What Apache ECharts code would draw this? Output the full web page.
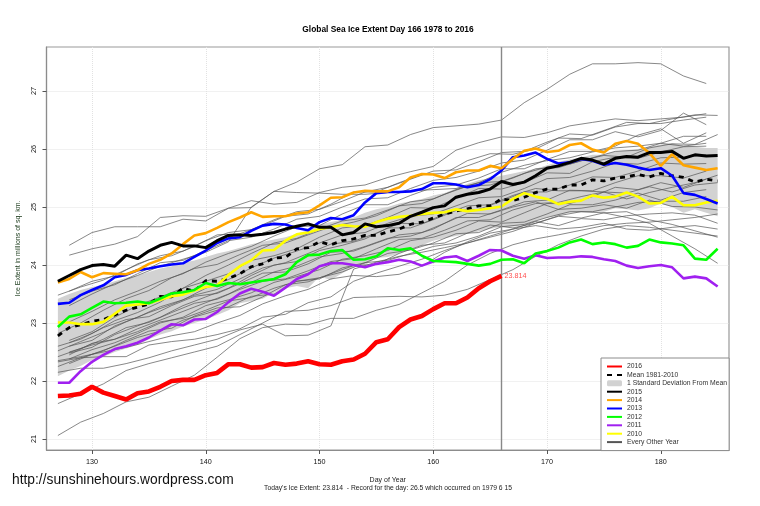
<!DOCTYPE html>
<html lang="en">
<head>
  <meta charset="UTF-8">
  <title>Global Sea Ice Extent</title>
  <script src="https://cdn.jsdelivr.net/npm/echarts@6/dist/echarts.min.js"></script>
  <style>
    html, body { margin: 0; padding: 0; background: #fff; }
  </style>
</head>
<body>
  <div id="main" style="width:760px; height:506px;"></div>
  <script>
    // day ticks and value ticks
    var dayTicks = [130, 140, 150, 160, 170, 180];
    var iceTicks = [21, 22, 23, 24, 25, 26, 27];
    var todayDay = 166;

    // highlighted years, one value per day, starting at day 127
    var y2016 = [21.74,21.75,21.78,21.90,21.80,21.74,21.68,21.79,21.82,21.90,22.00,22.02,22.02,22.10,22.14,22.29,22.29,22.23,22.24,22.31,22.28,22.30,22.34,22.29,22.28,22.34,22.37,22.47,22.67,22.72,22.93,23.06,23.12,23.24,23.34,23.34,23.44,23.60,23.72,23.814];
    var y2015 = [23.72,23.82,23.92,23.99,24.01,23.98,24.17,24.11,24.24,24.34,24.39,24.33,24.33,24.30,24.42,24.51,24.52,24.51,24.53,24.56,24.62,24.67,24.71,24.65,24.65,24.52,24.56,24.71,24.66,24.68,24.72,24.84,24.91,24.99,25.02,25.17,25.22,25.25,25.31,25.44,25.39,25.43,25.54,25.67,25.71,25.77,25.84,25.81,25.74,25.84,25.87,25.86,25.94,25.94,25.96,25.84,25.90,25.88,25.89];
    var y2014 = [23.70,23.76,23.88,23.79,23.86,23.85,23.84,23.91,24.02,24.09,24.20,24.36,24.51,24.55,24.64,24.74,24.82,24.91,24.83,24.84,24.84,24.89,24.91,25.03,25.16,25.17,25.25,25.28,25.27,25.27,25.34,25.51,25.57,25.56,25.50,25.60,25.63,25.63,25.71,25.67,25.83,25.97,26.01,25.95,25.97,26.07,26.10,25.99,25.94,26.09,26.14,26.09,25.93,25.71,25.91,25.72,25.68,25.64,25.67];
    var y2013 = [23.33,23.35,23.48,23.57,23.65,23.79,23.83,23.91,23.94,23.98,24.01,24.03,24.14,24.25,24.38,24.46,24.48,24.59,24.68,24.71,24.70,24.64,24.60,24.74,24.81,24.79,24.86,25.08,25.24,25.26,25.26,25.27,25.31,25.41,25.41,25.39,25.34,25.38,25.48,25.63,25.86,25.89,25.94,25.83,25.75,25.77,25.83,25.80,25.73,25.76,25.73,25.68,25.64,25.67,25.54,25.24,25.21,25.14,25.06];
    var y2012 = [22.93,23.11,23.15,23.26,23.37,23.34,23.35,23.37,23.34,23.42,23.51,23.53,23.57,23.69,23.64,23.69,23.67,23.70,23.73,23.76,23.84,24.05,24.17,24.18,24.24,24.26,24.09,24.10,24.15,24.29,24.26,24.29,24.16,24.07,24.06,24.05,24.02,23.99,24.02,24.09,24.10,24.03,24.20,24.24,24.30,24.39,24.44,24.36,24.39,24.36,24.30,24.33,24.44,24.39,24.37,24.34,24.11,24.09,24.28];
    var y2011 = [21.97,21.97,22.17,22.33,22.45,22.55,22.60,22.66,22.75,22.87,22.98,22.96,23.06,23.07,23.19,23.36,23.51,23.59,23.54,23.47,23.61,23.76,23.84,23.98,24.03,24.03,24.00,23.96,24.02,24.05,24.09,24.06,23.99,24.06,24.13,24.15,24.07,24.16,24.26,24.25,24.16,24.11,24.17,24.12,24.13,24.13,24.15,24.14,24.10,24.07,23.99,23.95,23.98,24.00,23.96,23.77,23.80,23.77,23.63];
    var y2010 = [23.01,23.01,22.98,22.98,23.02,23.16,23.30,23.32,23.34,23.40,23.46,23.49,23.56,23.62,23.65,23.83,23.98,24.08,24.25,24.26,24.42,24.53,24.56,24.62,24.65,24.69,24.67,24.66,24.74,24.80,24.83,24.85,24.88,24.90,24.91,24.96,24.93,24.95,24.98,25.01,25.14,25.24,25.18,25.14,25.05,25.09,25.11,25.20,25.16,25.18,25.25,25.18,25.06,25.07,25.18,25.03,25.03,25.08,25.11];
    var meanIce = [22.78,22.92,22.97,23.03,23.06,23.14,23.22,23.27,23.33,23.46,23.45,23.60,23.55,23.73,23.72,23.77,23.85,23.97,24.02,24.12,24.13,24.28,24.30,24.40,24.35,24.42,24.45,24.51,24.51,24.57,24.62,24.70,24.74,24.81,24.88,24.93,24.97,25.02,25.02,25.14,25.11,25.17,25.25,25.31,25.31,25.38,25.38,25.47,25.45,25.50,25.52,25.56,25.52,25.58,25.54,25.51,25.43,25.48,25.45];
    var sdUpper = [23.42,23.50,23.57,23.62,23.66,23.72,23.78,23.82,23.88,23.94,23.98,24.04,24.08,24.14,24.20,24.24,24.30,24.36,24.40,24.44,24.48,24.54,24.60,24.70,24.74,24.78,24.82,24.90,24.96,25.00,25.06,25.10,25.14,25.20,25.24,25.32,25.40,25.46,25.50,25.54,25.58,25.62,25.66,25.72,25.78,25.82,25.86,25.90,25.90,25.96,25.98,26.00,26.04,26.08,26.10,26.06,26.04,26.02,26.02];
    var sdLower = [22.08,22.18,22.26,22.36,22.42,22.50,22.56,22.62,22.72,22.80,22.86,22.94,23.00,23.06,23.14,23.22,23.34,23.38,23.42,23.52,23.60,23.64,23.60,23.80,23.74,23.86,23.96,24.00,24.12,24.14,24.20,24.28,24.34,24.42,24.46,24.50,24.54,24.58,24.62,24.66,24.66,24.70,24.76,24.82,24.86,24.90,24.92,24.92,24.92,24.98,24.96,24.94,24.98,25.06,25.00,24.90,24.96,24.90,24.84];

    // thin years, one value every second day, starting at day 128
    var evenYears = [
      [24.34,24.56,24.66,24.66,24.66,24.79,24.76,24.98,24.99,25.27,25.43,25.66,25.73,26.04,26.07,26.25,26.37,26.40,26.43,26.50,26.80,27.03,27.29,27.47,27.47,27.49,27.47,27.26,27.13],
      [24.17,24.28,24.36,24.49,24.82,24.85,24.84,24.98,25.11,25.05,25.08,25.25,25.34,25.38,25.51,25.61,25.70,25.98,26.11,26.21,26.20,26.28,26.40,26.46,26.52,26.49,26.52,26.55,26.61],
      [22.45,22.65,22.72,22.85,23.02,23.08,23.22,23.38,23.44,23.60,23.72,23.78,23.88,24.04,24.08,24.20,24.32,24.38,24.50,24.66,24.70,24.82,24.92,24.92,25.00,25.08,25.10,25.10,25.18],
      [22.30,22.46,22.60,22.75,22.86,23.05,23.16,23.28,23.46,23.50,23.72,23.76,23.95,24.04,24.20,24.26,24.38,24.54,24.56,24.72,24.74,24.88,25.04,25.04,25.12,25.24,25.12,25.25,25.30],
      [22.38,22.54,22.66,22.82,23.00,23.10,23.30,23.40,23.52,23.70,23.80,23.92,24.10,24.16,24.25,24.42,24.48,24.60,24.76,24.74,24.90,25.06,25.06,25.18,25.34,25.30,25.42,25.34,25.48],
      [22.50,22.62,22.72,22.90,23.05,23.20,23.35,23.50,23.70,23.88,23.98,24.14,24.20,24.32,24.46,24.50,24.62,24.82,24.82,24.95,25.09,25.12,25.29,25.28,25.42,25.54,25.54,25.50,25.62],
      [22.48,22.58,22.80,22.95,23.10,23.30,23.45,23.60,23.82,24.00,24.06,24.25,24.34,24.45,24.64,24.64,24.78,24.94,24.96,25.10,25.26,25.26,25.38,25.52,25.51,25.62,25.76,25.74,25.75],
      [22.60,22.70,22.95,23.10,23.28,23.40,23.60,23.75,23.95,24.12,24.24,24.38,24.52,24.56,24.72,24.84,24.88,25.02,25.16,25.18,25.32,25.49,25.51,25.62,25.76,25.74,25.85,25.86,25.90],
      [22.66,22.82,23.04,23.18,23.36,23.60,23.72,23.85,24.08,24.16,24.28,24.48,24.64,24.68,24.82,24.99,24.98,25.15,25.32,25.31,25.42,25.59,25.58,25.78,25.86,25.84,25.95,26.04,26.05],
      [22.70,22.85,23.10,23.30,23.45,23.60,23.82,24.00,24.20,24.38,24.46,24.62,24.76,24.81,24.95,25.09,25.14,25.30,25.42,25.44,25.58,25.69,25.74,25.85,25.96,25.98,26.10,26.22,26.22],
      [23.02,23.20,23.40,23.55,23.72,23.85,24.05,24.20,24.32,24.50,24.66,24.68,24.88,25.04,25.04,25.20,25.34,25.38,25.50,25.66,25.66,25.82,25.96,25.96,26.05,26.24,26.35,26.10,26.28],
      [23.40,23.55,23.66,23.85,24.04,24.08,24.25,24.42,24.48,24.62,24.79,24.84,25.00,25.14,25.16,25.32,25.46,25.51,25.62,25.76,25.81,25.98,26.16,26.16,26.30,26.21,26.32,26.62,26.42],
      [23.55,23.72,23.81,24.02,24.16,24.24,24.42,24.56,24.61,24.78,24.92,24.96,25.10,25.26,25.34,25.48,25.62,25.64,25.78,25.94,25.96,26.12,26.26,26.24,26.38,26.44,26.44,26.50,26.55],
      [23.30,23.50,23.68,23.82,23.98,24.10,24.22,24.40,25.00,25.27,25.25,25.24,25.22,25.22,25.25,25.28,25.30,25.32,25.42,25.60,25.72,25.80,25.85,25.95,26.02,26.05,26.10,26.05,26.10]
    ];

    // thin years, one value every second day, starting at day 127
    var oddYears = [
      [21.06,21.29,21.44,21.64,21.72,21.91,22.10,22.41,22.73,22.92,22.98,22.97,23.08,23.08,23.22,23.32,23.52,23.72,24.00,24.20,24.35,24.45,24.52,24.60,24.68,24.72,24.74,24.78,24.82,24.88],
      [21.61,21.78,21.95,22.18,22.30,22.40,22.50,22.60,22.80,23.00,23.20,23.22,23.30,23.44,23.45,23.46,23.45,23.48,23.58,23.75,23.92,24.15,24.35,24.50,24.62,24.68,24.65,24.60,24.55,24.50],
      [22.15,22.22,22.22,22.30,22.40,22.52,22.62,22.72,22.88,22.98,22.78,22.79,22.95,23.93,24.05,24.15,24.22,24.30,24.38,24.48,24.58,24.72,24.85,24.92,24.90,24.82,24.72,24.50,24.28,24.03],
      [22.35,22.42,22.50,22.58,22.68,22.78,22.85,23.00,23.13,23.33,23.47,23.58,23.76,23.82,23.80,23.84,23.98,24.22,24.40,24.55,24.62,24.68,24.62,24.65,24.72,24.62,24.60,24.65,24.68,24.62],
      [22.33,22.40,22.42,22.42,22.62,22.68,22.72,22.80,22.90,23.10,23.15,23.35,23.45,23.72,23.86,23.98,24.10,24.25,24.38,24.50,24.62,24.75,24.68,24.80,24.78,24.85,24.88,24.90,24.86,24.72],
      [22.25,22.40,22.52,22.70,22.86,22.91,23.12,23.26,23.28,23.45,23.66,23.71,23.85,23.99,24.01,24.20,24.34,24.38,24.55,24.69,24.64,24.72,24.84,24.81,24.90,24.92,24.78,24.70,24.59,24.48],
      [22.42,22.56,22.72,22.92,23.01,23.18,23.34,23.41,23.58,23.72,23.76,23.90,24.06,24.11,24.28,24.44,24.46,24.60,24.76,24.78,24.95,25.06,25.08,25.18,25.26,25.24,25.35,25.26,25.38,25.42],
      [22.52,22.68,22.84,23.02,23.18,23.32,23.48,23.58,23.76,23.95,24.04,24.20,24.36,24.41,24.55,24.72,24.71,24.88,25.02,25.04,25.20,25.32,25.28,25.28,25.26,25.14,25.25,25.34,25.42,25.55],
      [22.82,23.00,23.22,23.42,23.56,23.78,23.94,24.01,24.18,24.34,24.38,24.52,24.66,24.74,24.85,25.02,25.06,25.22,25.36,25.38,25.50,25.66,25.68,25.80,25.89,25.86,26.02,26.09,26.08,26.25],
      [23.48,23.62,23.74,23.92,24.09,24.16,24.32,24.52,24.54,24.68,24.84,24.88,25.05,25.26,25.26,25.42,25.56,25.58,25.80,25.92,25.91,26.00,26.19,26.18,26.32,26.46,26.44,26.52,26.59,26.58],
      [22.60,22.72,22.92,23.06,23.11,23.30,23.46,23.51,23.68,23.86,23.88,24.02,24.22,24.24,24.38,24.52,24.56,24.72,24.89,24.88,25.00,25.09,24.96,24.98,25.04,24.98,25.12,25.01,25.00,24.95]
    ];

    // turn a value list into [day, value] pairs
    function toPoints(values, startDay, step) {
      return values.map(function (v, i) { return [startDay + i * step, v]; });
    }

    var main = document.getElementById("main");
    var mychart = echarts.init(main);

    var series = [];

    // grey band, one polygon through the axis scales
    var bandRows = sdUpper.map(function (v, i) { return [127 + i, sdLower[i], v]; });
    series.push({
      name: "1 Standard Deviation From Mean",
      type: "custom",
      z: 1,
      silent: true,
      data: bandRows,
      itemStyle: { color: "#d2d2d2" },
      encode: { x: 0, y: [1, 2] },
      renderItem: function (params, api) {
        if (params.dataIndex !== 0) return null;
        var top = bandRows.map(function (r) { return api.coord([r[0], r[2]]); });
        var bottom = bandRows.map(function (r) { return api.coord([r[0], r[1]]); }).reverse();
        return {
          type: "polygon",
          shape: { points: top.concat(bottom) },
          style: { fill: "#d2d2d2" }
        };
      }
    });

    function addThin(values, startDay) {
      series.push({
        name: "Every Other Year",
        type: "line",
        z: 2,
        silent: true,
        symbol: "none",
        data: toPoints(values, startDay, 2),
        lineStyle: { color: "#555", width: 0.7 },
        itemStyle: { color: "#555" }
      });
    }
    evenYears.forEach(function (v) { addThin(v, 128); });
    oddYears.forEach(function (v) { addThin(v, 127); });

    function addYear(name, values, color, width, z) {
      var s = {
        name: name,
        type: "line",
        z: z,
        silent: true,
        symbol: "none",
        data: toPoints(values, 127, 1),
        lineStyle: { color: color, width: width },
        itemStyle: { color: color }
      };
      series.push(s);
      return s;
    }

    var meanSeries = addYear("Mean 1981-2010", meanIce, "#000", 2.8, 3);
    meanSeries.lineStyle.type = [5, 5];
    addYear("2010", y2010, "#ffff00", 2.6, 4);
    addYear("2011", y2011, "#a020f0", 2.6, 5);
    addYear("2012", y2012, "#00ff00", 2.6, 6);
    addYear("2013", y2013, "#0000ff", 2.6, 7);
    addYear("2014", y2014, "#ffa500", 2.6, 8);
    addYear("2015", y2015, "#000", 3, 9);

    var s2016 = addYear("2016", y2016, "#ff0000", 4.6, 10);
    s2016.endLabel = {
      show: true,
      formatter: "23.814",
      color: "#ff5050",
      fontSize: 7.2,
      fontFamily: "Liberation Sans",
      distance: 3
    };
    // vertical line at today
    s2016.markLine = {
      silent: true,
      symbol: "none",
      animation: false,
      label: { show: false },
      lineStyle: { color: "#888", width: 1.4, type: "solid" },
      data: [{ xAxis: todayDay }]
    };

    var option = {
      animation: false,
      backgroundColor: "#fff",
      textStyle: { fontFamily: "Liberation Sans", color: "#111" },
      title: [
        { text: "Global Sea Ice Extent Day 166 1978 to 2016", left: 388, top: 26, textAlign: "center", padding: 0,
          textStyle: { fontSize: 8.4, fontWeight: "bold", color: "#000", fontFamily: "Liberation Sans" } },
        { text: "http://sunshinehours.wordpress.com", left: 12, top: 473, padding: 0,
          textStyle: { fontSize: 13.8, fontWeight: "normal", color: "#111", fontFamily: "Liberation Sans" } },
        { text: "Today's Ice Extent: 23.814  - Record for the day: 26.5 which occurred on 1979 6 15", left: 388, top: 485, textAlign: "center", padding: 0,
          textStyle: { fontSize: 6.75, fontWeight: "normal", color: "#222", fontFamily: "Liberation Sans" } }
      ],
      grid: {
        show: true, left: 46.5, right: 31, top: 47, bottom: 56,
        borderColor: "#999", borderWidth: 1.2, backgroundColor: "transparent"
      },
      legend: {
        left: 601, top: 358, orient: "vertical", align: "left",
        backgroundColor: "#fff", borderColor: "#8c8c8c", borderWidth: 1,
        padding: [5, 2, 5, 5], itemWidth: 15, itemHeight: 6, itemGap: 1.4, selectedMode: false,
        itemStyle: { opacity: 0 },
        textStyle: { fontSize: 6.8, lineHeight: 7, color: "#333", fontFamily: "Liberation Sans" },
        data: [
          "2016", "Mean 1981-2010",
          { name: "1 Standard Deviation From Mean", icon: "roundRect", itemStyle: { opacity: 1 } },
          "2015", "2014", "2013", "2012", "2011", "2010", "Every Other Year"
        ]
      },
      xAxis: {
        type: "value", min: 126, max: 186, name: "Day of Year", nameLocation: "middle", nameGap: 27,
        nameTextStyle: { fontSize: 7, color: "#222" },
        axisLine: { lineStyle: { color: "#8c8c8c", width: 1.2 } },
        axisTick: { length: 4, lineStyle: { color: "#555" }, customValues: dayTicks },
        axisLabel: { fontSize: 7.2, margin: 9, color: "#111", customValues: dayTicks },
        splitLine: { show: true, lineStyle: { color: "#e2e2e2", type: "dotted", width: 1 } }
      },
      yAxis: {
        type: "value", min: 20.81, max: 27.76, name: "Ice Extent in millions of sq. km.", nameLocation: "middle", nameGap: 25, nameRotate: 90,
        nameTextStyle: { fontSize: 7, color: "#1a3a1a" },
        axisLine: { show: true, lineStyle: { color: "#8c8c8c", width: 1.2 } },
        axisTick: { show: true, length: 4, lineStyle: { color: "#555" }, customValues: iceTicks },
        axisLabel: { fontSize: 7.2, margin: 9, rotate: 90, color: "#111", customValues: iceTicks },
        splitLine: { show: true, lineStyle: { color: "#e2e2e2", type: "dotted", width: 1 } }
      },
      series: series
    };

    mychart.setOption(option);
  </script>
</body>
</html>
